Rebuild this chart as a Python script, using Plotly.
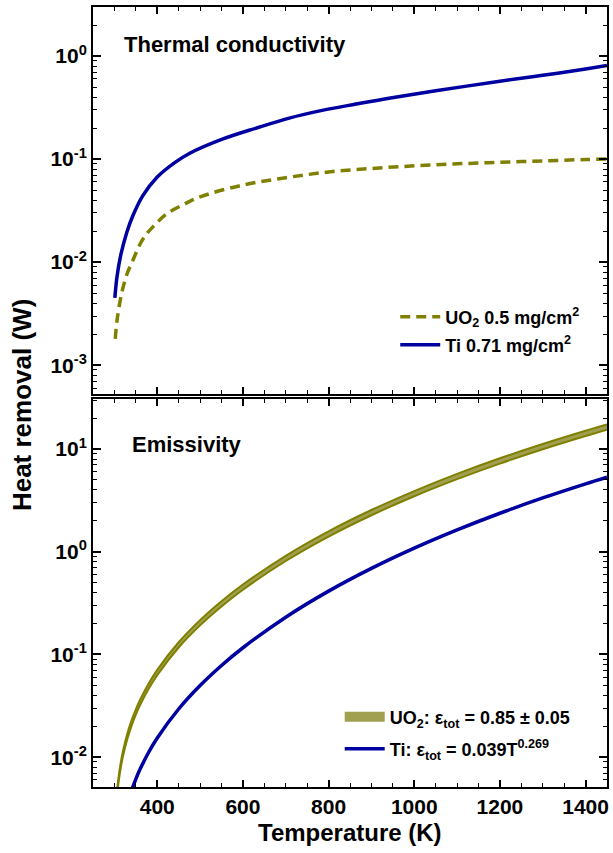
import plotly.graph_objects as go

# ---------------- data ----------------
# Top panel: thermal conductivity heat removal (W)
T_uo2_cond = [302, 306, 317, 330, 343, 360, 376, 390, 420, 460, 500, 600, 700, 800,
              900, 1000, 1100, 1200, 1300, 1400, 1450]
W_uo2_cond = [0.0018, 0.0027, 0.005, 0.0078, 0.0104, 0.015, 0.019, 0.022, 0.029, 0.036,
              0.043, 0.056, 0.066, 0.075, 0.081, 0.086, 0.09, 0.093, 0.096, 0.099, 0.1]
T_ti_cond = [301, 306, 315, 329, 343, 366, 400, 440, 476, 552, 631, 708, 785, 864, 941,
             1050, 1200, 1300, 1400, 1450]
W_ti_cond = [0.0045, 0.0072, 0.0118, 0.0195, 0.0282, 0.044, 0.067, 0.092, 0.114, 0.156,
             0.2, 0.25, 0.297, 0.342, 0.39, 0.46, 0.57, 0.65, 0.75, 0.81]

# Bottom panel: emissivity (radiative) heat removal (W)
T_uo2_em = [300, 305, 310, 315, 320, 330, 340, 350, 360, 380, 400, 450, 500, 550, 600,
            700, 800, 900, 1000, 1100, 1200, 1300, 1400, 1450]
W_uo2_em_lo = [0.00186, 0.00379, 0.00582, 0.00796, 0.0102, 0.0150, 0.0202, 0.0260, 0.0322,
               0.0464, 0.063, 0.1169, 0.192, 0.293, 0.427, 0.813, 1.406, 2.267, 3.47, 5.09,
               7.22, 9.96, 13.4, 15.43]
W_uo2_em_hi = [0.00209, 0.00426, 0.00655, 0.00895, 0.01147, 0.01687, 0.0228, 0.02925, 0.0363,
               0.0522, 0.0709, 0.1315, 0.216, 0.330, 0.480, 0.914, 1.581, 2.551, 3.90, 5.73,
               8.13, 11.2, 15.08, 17.36]
T_ti_em = [330, 340, 350, 360, 380, 400, 450, 500, 550, 600, 700, 800, 900, 1000, 1100,
           1200, 1300, 1400, 1450]
W_ti_em = [0.00348, 0.00473, 0.00613, 0.00766, 0.01118, 0.0154, 0.02947, 0.0498, 0.0781,
           0.1163, 0.2308, 0.4138, 0.689, 1.085, 1.633, 2.372, 3.342, 4.586, 5.332]

# tick labels
top_tickvals = [1e-3, 1e-2, 1e-1, 1]
top_ticktext = ["10<sup>-3</sup>", "10<sup>-2</sup>", "10<sup>-1</sup>", "10<sup>0</sup>"]
bot_tickvals = [1e-2, 1e-1, 1, 10]
bot_ticktext = ["10<sup>-2</sup>", "10<sup>-1</sup>", "10<sup>0</sup>", "10<sup>1</sup>"]

OLIVE = "#808000"
BAND = "#a0a050"
BLUE = "#0000a0"
FONT = "Liberation Sans"

def minor_vals(lo_exp, hi_exp):
    return [k * 10.0 ** e for e in range(lo_exp, hi_exp) for k in range(2, 10)]

fig = go.Figure()

# top panel traces
fig.add_trace(go.Scatter(x=T_uo2_cond, y=W_uo2_cond, mode="lines", xaxis="x", yaxis="y",
                         line=dict(color=OLIVE, width=3.5, dash="10px,6px", shape="spline"),
                         name="UO<sub>2</sub> 0.5 mg/cm<sup>2</sup>", legend="legend"))
fig.add_trace(go.Scatter(x=T_ti_cond, y=W_ti_cond, mode="lines", xaxis="x", yaxis="y",
                         line=dict(color=BLUE, width=3.5, shape="spline"),
                         name="Ti 0.71 mg/cm<sup>2</sup>", legend="legend2"))

# bottom panel traces
fig.add_trace(go.Scatter(x=T_uo2_em, y=W_uo2_em_lo, mode="lines", xaxis="x2", yaxis="y2",
                         line=dict(color=OLIVE, width=2, shape="spline"),
                         showlegend=False, legend="legend3", legendgroup="uo2"))
fig.add_trace(go.Scatter(x=T_uo2_em, y=W_uo2_em_hi, mode="lines", xaxis="x2", yaxis="y2",
                         fill="tonexty", fillcolor=BAND,
                         line=dict(color=OLIVE, width=2, shape="spline"),
                         showlegend=False, legend="legend3", legendgroup="uo2"))
# legend key for the band (no data of its own)
fig.add_trace(go.Scatter(x=[None], y=[None], mode="lines", xaxis="x2", yaxis="y2",
                         line=dict(color=BAND, width=18),
                         name="UO<sub>2</sub>: ε<sub>tot</sub> = 0.85 ± 0.05",
                         legend="legend3", legendgroup="uo2"))
fig.add_trace(go.Scatter(x=T_ti_em, y=W_ti_em, mode="lines", xaxis="x2", yaxis="y2",
                         line=dict(color=BLUE, width=3.5, shape="spline"),
                         name="Ti: ε<sub>tot</sub> = 0.039T<sup>0.269</sup>", legend="legend4"))

xcommon = dict(range=[250, 1450], tick0=0, dtick=200, ticks="inside", ticklen=7, tickwidth=1.5,
               tickcolor="black", showline=True, linewidth=2, linecolor="black",
               mirror="allticks", showgrid=False, zeroline=False,
               minor=dict(tick0=0, dtick=50, ticks="inside", ticklen=4, tickwidth=1.2,
                          tickcolor="black", showgrid=False),
               tickfont=dict(family=FONT, size=21, color="black", weight="bold"))
ycommon = dict(type="log", tickmode="array", ticks="inside", ticklen=8, tickwidth=1.5,
               tickcolor="black", showline=True, linewidth=2, linecolor="black",
               mirror="allticks", showgrid=False, zeroline=False,
               tickfont=dict(family=FONT, size=21, color="black", weight="bold"))

legfont = dict(family=FONT, size=18, color="black", weight="bold")
def leg(x, y):
    return dict(x=x, y=y, xanchor="left", yanchor="middle", bgcolor="rgba(0,0,0,0)",
                font=legfont, itemwidth=40, tracegroupgap=0, traceorder="normal")

fig.update_layout(
    width=613, height=853,
    margin=dict(l=93, r=4, t=7, b=66),
    paper_bgcolor="white", plot_bgcolor="white",
    font=dict(family=FONT, color="black"),
    xaxis=dict(xcommon, domain=[0, 1], anchor="y", showticklabels=False),
    yaxis=dict(ycommon, domain=[0.5038, 1], anchor="x", range=[-3.28, 0.476],
               tickvals=top_tickvals, ticktext=top_ticktext,
               minor=dict(tickmode="array", tickvals=minor_vals(-4, 1), ticks="inside",
                          ticklen=4, tickwidth=1.2, tickcolor="black", showgrid=False)),
    xaxis2=dict(xcommon, domain=[0, 1], anchor="y2"),
    yaxis2=dict(ycommon, domain=[0, 0.4974], anchor="x2", range=[-2.29, 1.487],
                tickvals=bot_tickvals, ticktext=bot_ticktext,
                minor=dict(tickmode="array", tickvals=minor_vals(-3, 2), ticks="inside",
                           ticklen=4, tickwidth=1.2, tickcolor="black", showgrid=False)),
    legend=leg(0.588, 0.6026),
    legend2=leg(0.588, 0.5667),
    legend3=leg(0.48, 0.0897),
    legend4=leg(0.48, 0.0487),
    showlegend=True,
)

annos = [
    dict(text="Thermal conductivity", x=0.0562, y=0.9513, xanchor="left", yanchor="middle",
         font=dict(size=22)),
    dict(text="Emissivity", x=0.0717, y=0.4397, xanchor="left", yanchor="middle",
         font=dict(size=22)),
    dict(text="Heat removal (W)", x=-0.1376, y=0.49, xanchor="center", yanchor="middle",
         textangle=-90, font=dict(size=26)),
    dict(text="Temperature (K)", x=0.5, y=-0.0577, xanchor="center", yanchor="middle",
         font=dict(size=24)),
]
for a in annos:
    a["font"].update(family=FONT, color="black", weight="bold")
    fig.add_annotation(xref="paper", yref="paper", showarrow=False, **a)

fig.write_html("out.html")
